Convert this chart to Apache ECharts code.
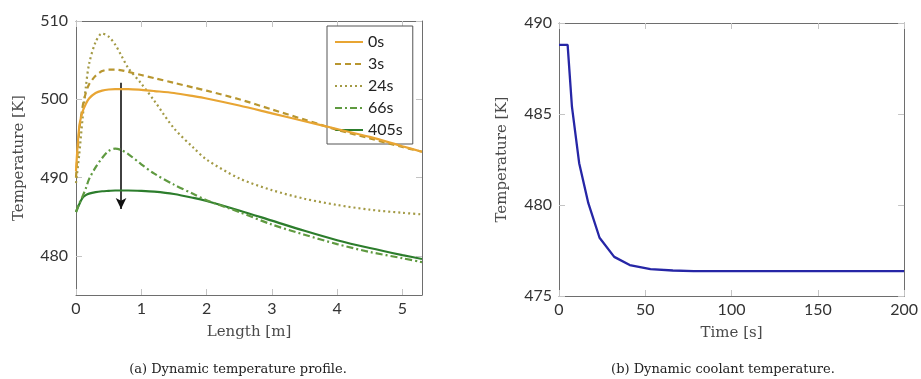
<!DOCTYPE html>
<html>
<head>
<meta charset="utf-8">
<script src="https://cdn.jsdelivr.net/npm/echarts@6/dist/echarts.min.js"></script>
<style>html,body{margin:0;padding:0;background:#fff;}#c{width:921px;height:379px;}</style>
</head>
<body>
<div id="c"></div>
<script>
// ---- Data: left panel (temperature profile along reactor length) ----
var lengthM = [0, 0.05, 0.1, 0.15, 0.2, 0.3, 0.4, 0.5, 0.6, 0.7, 0.8, 1.0, 1.2, 1.5, 1.8, 2.0, 2.5, 3.0, 3.5, 4.0, 4.5, 5.0, 5.3];
var t0s   = [490.8, 496.5, 498.4, 499.4, 500.1, 500.8, 501.1, 501.25, 501.3, 501.3, 501.3, 501.2, 501.05, 500.8, 500.4, 500.1, 499.2, 498.2, 497.2, 496.2, 495.2, 494.0, 493.3];
var t3s   = [490.0, 496.0, 499.0, 500.8, 501.9, 503.0, 503.6, 503.8, 503.8, 503.7, 503.5, 503.1, 502.7, 502.1, 501.5, 501.1, 500.0, 498.7, 497.4, 496.1, 495.0, 493.9, 493.3];
var t24s  = [489.3, 493.0, 497.5, 501.5, 504.5, 507.3, 508.4, 508.0, 507.0, 505.5, 504.0, 502.0, 499.8, 496.3, 493.8, 492.3, 489.9, 488.4, 487.3, 486.5, 485.9, 485.5, 485.3];
var t66s  = [485.6, 486.7, 487.6, 488.6, 489.8, 491.3, 492.5, 493.4, 493.7, 493.5, 493.0, 491.7, 490.5, 489.1, 487.9, 487.1, 485.6, 484.0, 482.7, 481.5, 480.5, 479.7, 479.2];
var t405s = [485.6, 486.6, 487.4, 487.75, 487.95, 488.15, 488.25, 488.3, 488.35, 488.35, 488.35, 488.3, 488.2, 487.9, 487.4, 487.0, 485.8, 484.5, 483.2, 482.0, 481.0, 480.1, 479.6];
var seriesNames = ['0s', '3s', '24s', '66s', '405s'];
var leftXTicks = [0, 1, 2, 3, 4, 5];
var leftYTicks = [480, 490, 500, 510];
var arrowX = 0.69, arrowFrom = 502.1, arrowTo = 486.0;

// ---- Data: right panel (coolant temperature over time) ----
var timeS   = [0, 5, 7.5, 11.7, 17, 23.5, 32, 41, 53, 66, 78, 200];
var coolant = [488.8, 488.8, 485.4, 482.3, 480.1, 478.2, 477.15, 476.7, 476.48, 476.4, 476.37, 476.37];
var rightXTicks = [0, 50, 100, 150, 200];
var rightYTicks = [475, 480, 485, 490];

function pairs(xs, ys) { return xs.map(function (x, i) { return [x, ys[i]]; }); }

var serifFont = 'DejaVu Serif';
var tickFont = 'Lato';
var axisCol = '#6e6e6e';
var tickCol = '#c4c4c4';

function mkAxis(o) {
  var base = {
    type: 'value',
    gridIndex: o.grid,
    position: o.pos,
    min: o.min, max: o.max,
    splitLine: { show: false },
    axisLine: { show: true, onZero: false, lineStyle: { color: axisCol, width: 1 } },
    axisTick: { show: true, inside: true, length: 6, lineStyle: { color: tickCol, width: 1 }, customValues: o.ticks },
    axisLabel: { show: !!o.labels, customValues: o.ticks, fontFamily: tickFont, fontSize: 16, color: '#333', margin: o.margin || 8 }
  };
  if (o.name) {
    base.name = o.name;
    base.nameLocation = 'middle';
    base.nameGap = o.nameGap;
    base.nameTextStyle = { fontFamily: serifFont, fontSize: 15, color: '#4a4a4a' };
  }
  return base;
}

var chart = echarts.init(document.getElementById('c'), null, { renderer: 'canvas' });

var colors = ['#E8A533', '#B8962F', '#A39A45', '#5F9A40', '#2C7D2C'];
var dashes = ['solid', [6, 4], [2, 3], [7, 3, 2, 3], 'solid'];
var leftData = [t0s, t3s, t24s, t66s, t405s];

var series = leftData.map(function (ys, i) {
  return {
    name: seriesNames[i],
    type: 'line',
    xAxisIndex: 0, yAxisIndex: 0,
    data: pairs(lengthM, ys),
    smooth: 0.3,
    symbol: 'none',
    lineStyle: { color: colors[i], width: 2.2, type: dashes[i] },
    itemStyle: { color: colors[i] },
    z: 10 - i
  };
});
series[4].markLine = {
  silent: true,
  symbol: ['none', 'arrow'],
  symbolSize: [8, 11],
  label: { show: false },
  lineStyle: { color: '#111', width: 1.6, type: 'solid' },
  emphasis: { disabled: true },
  data: [[{ coord: [arrowX, arrowFrom] }, { coord: [arrowX, arrowTo] }]]
};
series.push({
  name: 'coolant',
  type: 'line',
  xAxisIndex: 2, yAxisIndex: 2,
  data: pairs(timeS, coolant),
  symbol: 'none',
  lineStyle: { color: '#2626A6', width: 2.3 },
  z: 10
});

var option = {
  animation: false,
  backgroundColor: '#ffffff',
  grid: [
    { left: 76, top: 21, width: 346, height: 274 },
    { left: 559, top: 23, width: 346, height: 273 }
  ],
  xAxis: [
    mkAxis({ grid: 0, pos: 'bottom', min: 0, max: 5.3, ticks: leftXTicks, labels: true, margin: 6, name: 'Length [m]', nameGap: 30 }),
    mkAxis({ grid: 0, pos: 'top', min: 0, max: 5.3, ticks: leftXTicks }),
    mkAxis({ grid: 1, pos: 'bottom', min: 0, max: 200, ticks: rightXTicks, labels: true, margin: 6, name: 'Time [s]', nameGap: 30 }),
    mkAxis({ grid: 1, pos: 'top', min: 0, max: 200, ticks: rightXTicks })
  ],
  yAxis: [
    mkAxis({ grid: 0, pos: 'left', min: 475, max: 510, ticks: leftYTicks, labels: true, margin: 8, name: 'Temperature [K]', nameGap: 49 }),
    mkAxis({ grid: 0, pos: 'right', min: 475, max: 510, ticks: leftYTicks }),
    mkAxis({ grid: 1, pos: 'left', min: 475, max: 490, ticks: rightYTicks, labels: true, margin: 7, name: 'Temperature [K]', nameGap: 49 }),
    mkAxis({ grid: 1, pos: 'right', min: 475, max: 490, ticks: rightYTicks })
  ],
  legend: {
    data: seriesNames,
    orient: 'vertical',
    left: 327, top: 26,
    padding: [8, 10, 6, 7],
    itemWidth: 28, itemHeight: 14, itemGap: 6,
    itemStyle: { opacity: 0, borderWidth: 0 },
    backgroundColor: '#fff',
    borderColor: '#555', borderWidth: 1, borderRadius: 0,
    textStyle: { fontFamily: tickFont, fontSize: 16, color: '#222', lineHeight: 16 },
    selectedMode: false
  },
  graphic: [
    { type: 'text', x: 238, y: 370, style: { text: '(a) Dynamic temperature profile.', font: '13px "DejaVu Serif"', fill: '#222', align: 'center', verticalAlign: 'middle' } },
    { type: 'text', x: 723, y: 370, style: { text: '(b) Dynamic coolant temperature.', font: '13px "DejaVu Serif"', fill: '#222', align: 'center', verticalAlign: 'middle' } }
  ],
  series: series
};
chart.setOption(option);
</script>
</body>
</html>
